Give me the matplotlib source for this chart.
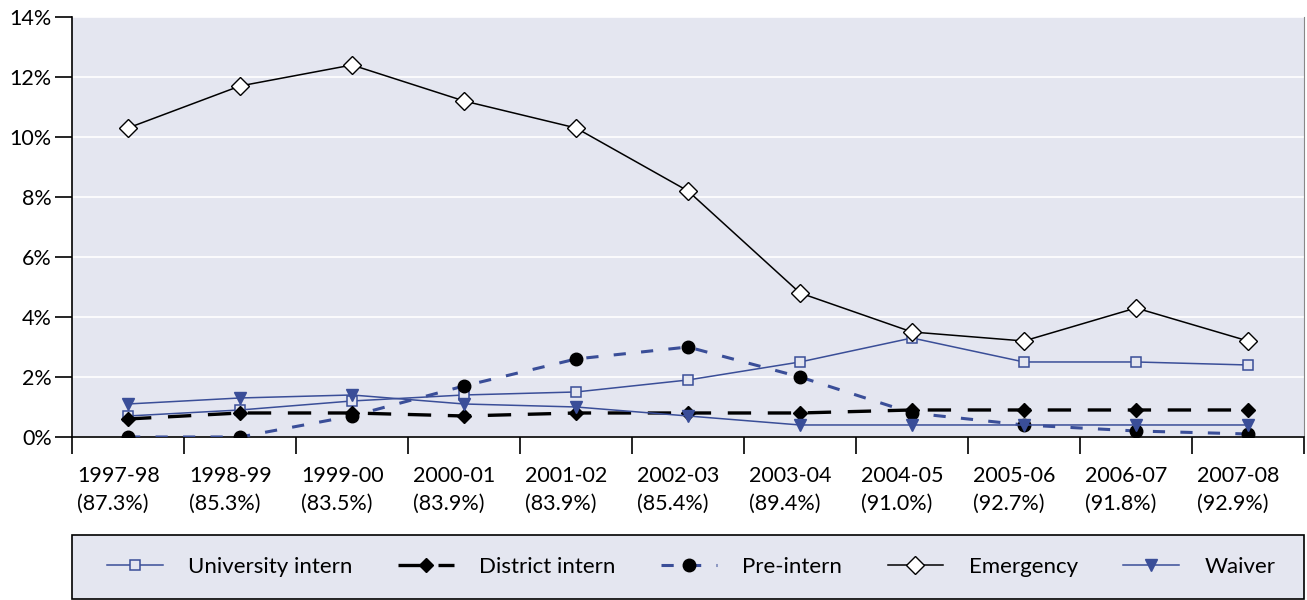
import matplotlib.pyplot as plt
from matplotlib.patches import Rectangle
import numpy as np

plt.rcParams['font.family'] = ['Lato', 'DejaVu Sans']

years = ['1997-98', '1998-99', '1999-00', '2000-01', '2001-02', '2002-03',
         '2003-04', '2004-05', '2005-06', '2006-07', '2007-08']
shares = ['87.3%', '85.3%', '83.5%', '83.9%', '83.9%', '85.4%',
          '89.4%', '91.0%', '92.7%', '91.8%', '92.9%']

university = [0.7, 0.9, 1.2, 1.4, 1.5, 1.9, 2.5, 3.3, 2.5, 2.5, 2.4]
district = [0.6, 0.8, 0.8, 0.7, 0.8, 0.8, 0.8, 0.9, 0.9, 0.9, 0.9]
pre_intern = [0.0, 0.0, 0.7, 1.7, 2.6, 3.0, 2.0, 0.8, 0.4, 0.2, 0.1]
emergency = [10.3, 11.7, 12.4, 11.2, 10.3, 8.2, 4.8, 3.5, 3.2, 4.3, 3.2]
waiver = [1.1, 1.3, 1.4, 1.1, 1.0, 0.7, 0.4, 0.4, 0.4, 0.4, 0.4]

blue = '#3A4E98'
bg = '#E4E6F0'

fig = plt.figure(figsize=(13.07, 6), dpi=100)
ax = fig.add_axes([0.0551, 0.2717, 0.9426, 0.7])
ax.set_facecolor(bg)

x = np.arange(len(years))
ax.plot(x, university, color=blue, lw=1.1, marker='s', ms=7.5,
        mfc=bg, mec=blue, mew=1.1, label='University intern', zorder=3)
ax.plot(x, district, color='black', lw=2.4, ls=(0, (7, 5)), marker='D', ms=7,
        mfc='black', mec='black', label='District intern', zorder=3)
ax.plot(x, pre_intern, color=blue, lw=2.2, ls=(0, (4, 5)), marker='o', ms=9,
        mfc='black', mec='black', label='Pre-intern', zorder=3)
ax.plot(x, emergency, color='black', lw=1.1, marker='D', ms=9,
        mfc='white', mec='black', mew=1.0, label='Emergency', zorder=3)
ax.plot(x, waiver, color=blue, lw=1.1, marker='v', ms=9,
        mfc=blue, mec=blue, label='Waiver', zorder=3)

ax.set_xlim(-0.5, len(years) - 0.5)
ax.set_ylim(0, 14)
ax.set_yticks(np.arange(0, 15, 2))
ax.set_yticklabels([f'{v}%' for v in range(0, 15, 2)], fontsize=15.5)
ax.yaxis.grid(True, color='white', lw=1.2)
ax.set_axisbelow(True)

# tick marks at category boundaries (minor), labels left-aligned just right of them (major)
ax.set_xticks(np.arange(-0.5, len(years), 1), minor=True)
ax.set_xticks(x - 0.455)
ax.set_xticklabels([f'{y}\n({s})' for y, s in zip(years, shares)],
                   fontsize=15.5, linespacing=1.5, ha='left')
ax.tick_params(axis='x', which='major', length=0, pad=21)
ax.tick_params(axis='x', which='minor', length=12.5, width=1.2)
ax.tick_params(axis='y', length=12.5, width=1.2, pad=2)

ax.spines['top'].set_visible(False)
ax.spines['right'].set_color('#888888')
ax.spines['left'].set_linewidth(1.2)
ax.spines['bottom'].set_linewidth(1.2)

# legend box below the plot
fig.patches.append(Rectangle((72 / 1307, 1 / 600), 1232 / 1307, 64 / 600,
                             transform=fig.transFigure, facecolor=bg,
                             edgecolor='black', lw=1.2, zorder=0))
leg = fig.legend(loc='center left', ncol=5, frameon=False,
                 bbox_to_anchor=(107 / 1307, 1 - 567 / 600),
                 fontsize=16, handlelength=2.5, handletextpad=1.15,
                 columnspacing=2.05, borderpad=0, borderaxespad=0)

fig.savefig('out.png', dpi=100)
